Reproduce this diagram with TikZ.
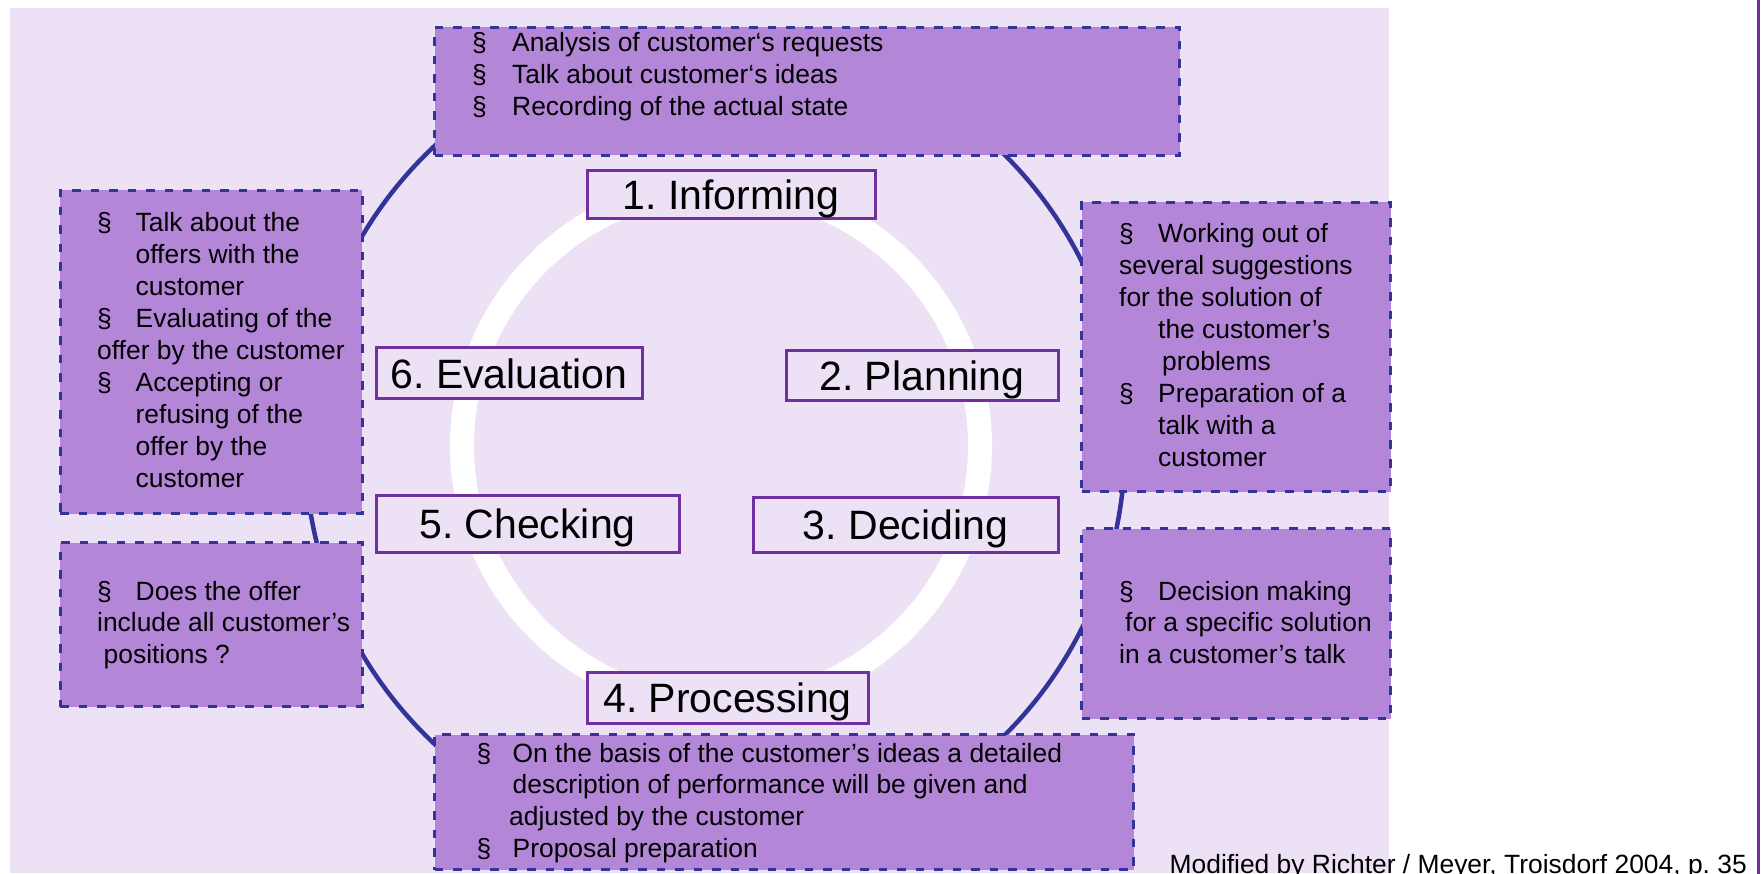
\documentclass[tikz,border=0pt]{standalone}
\usepackage{fontspec}
\setmainfont{Liberation Sans}
\definecolor{bgl}{RGB}{236,225,245}
\definecolor{boxf}{RGB}{180,134,216}
\definecolor{navy}{RGB}{51,51,153}
\definecolor{lblp}{RGB}{112,48,160}
\newcommand\bul[1][39pt]{\makebox[#1][l]{§}}
\frenchspacing
\begin{document}
\frenchspacing
\begin{tikzpicture}[x=1pt,y=-1pt,
 dbox/.style={draw=navy, line width=3pt, dash pattern=on 8.5pt off 10pt, fill=boxf, inner sep=0pt, anchor=north west},
 lbl/.style={draw=lblp, line width=3pt, fill=bgl, inner sep=0pt, font=\fontsize{41}{49}\selectfont, text height=29.4pt, text depth=0pt},
 txt/.style={inner sep=0pt, anchor=base west, font=\fontsize{26.4}{31.7}\selectfont},
 ring/.style={draw=white, line width=24pt},
 cyc/.style={draw=navy, line width=4.5pt},
]
\useasboundingbox (0,0) rectangle (1762,874);
% background
\fill[bgl] (10,8) rectangle (1389,873);
% white ring and navy circle
\draw[ring] (721,446) circle[radius=259pt];
\draw[cyc] (715,445) circle[radius=410pt];
% dashed boxes
\node[dbox, minimum width=745pt, minimum height=128pt] (top) at (433,26) {};
\node[dbox, minimum width=302pt, minimum height=323pt] (left1) at (58.5,189) {};
\node[dbox, minimum width=309pt, minimum height=289pt] (right1) at (1080,201) {};
\node[dbox, minimum width=309pt, minimum height=190pt] (right2) at (1080,527) {};
\node[dbox, minimum width=302pt, minimum height=164pt] (left2) at (58.5,541) {};
\node[dbox, minimum width=699pt, minimum height=135pt] (bottom) at (433,733) {};
% texts of the dashed boxes
\node[txt] (ttop) at (472,51.7) {\vtop{%
 \hbox{\bul[40pt]Analysis of customer‘s requests}%
 \hbox{\bul[40pt]Talk about customer‘s ideas}%
 \hbox{\bul[40pt]Recording of the actual state}}};
\node[txt, font=\fontsize{26.4}{32}\selectfont] (tleft1) at (97,232) {\vtop{%
 \hbox{\bul[38.5pt]Talk about the}%
 \hbox{\kern38.5pt offers with the}%
 \hbox{\kern38.5pt customer}%
 \hbox{\bul[38.5pt]Evaluating of the}%
 \hbox{offer by the customer}%
 \hbox{\bul[38.5pt]Accepting or}%
 \hbox{\kern38.5pt refusing of the}%
 \hbox{\kern38.5pt offer by the}%
 \hbox{\kern38.5pt customer}}};
\node[txt, font=\fontsize{26.4}{32}\selectfont] (tright1) at (1119,243) {\vtop{%
 \hbox{\bul Working out of}%
 \hbox{several suggestions}%
 \hbox{for the solution of}%
 \hbox{\kern39pt the customer’s}%
 \hbox{\kern43pt problems}%
 \hbox{\bul Preparation of a}%
 \hbox{\kern39pt talk with a}%
 \hbox{\kern39pt customer}}};
\node[txt, font=\fontsize{26.4}{31.5}\selectfont] (tright2) at (1119,600) {\vtop{%
 \hbox{\bul Decision making}%
 \hbox{\kern6pt for a specific solution}%
 \hbox{in a customer’s talk}}};
\node[txt, font=\fontsize{26.4}{31.5}\selectfont] (tleft2) at (97,600) {\vtop{%
 \hbox{\bul[38.5pt]Does the offer}%
 \hbox{include all customer’s}%
 \hbox{\kern6.5pt positions ?}}};
\node[txt] (tbottom) at (476.5,762) {\vtop{%
 \hbox{\bul[36pt]On the basis of the customer’s ideas a detailed}%
 \hbox{\kern36pt description of performance will be given and}%
 \hbox{\kern32.5pt adjusted by the customer}%
 \hbox{\bul[36pt]Proposal preparation}}};
% step labels
\node[lbl, minimum width=288pt, minimum height=48pt] (s1) at (731,195) {1. Informing};
\node[lbl, minimum width=272pt, minimum height=50pt] (s2) at (922,376) {2. Planning};
\node[lbl, minimum width=305pt, minimum height=55pt] (s3) at (905.5,524.5) {3. Deciding};
\node[lbl, minimum width=281pt, minimum height=51pt] (s4) at (727.5,697.5) {4. Processing};
\node[lbl, minimum width=303pt, minimum height=57pt] (s5) at (527.5,523.5) {5. Checking};
\node[lbl, minimum width=266pt, minimum height=51pt] (s6) at (509,373.5) {6. Evaluation};
% right edge line
\draw[lblp, line width=3pt] (1758.5,0) -- (1758.5,874);
% credit
\node[inner sep=0pt, anchor=base east, font=\fontsize{26.4}{31.7}\selectfont] (credit) at (1747,873.5) {Modified by Richter / Meyer, Troisdorf 2004, p. 35};
\end{tikzpicture}
\end{document}
